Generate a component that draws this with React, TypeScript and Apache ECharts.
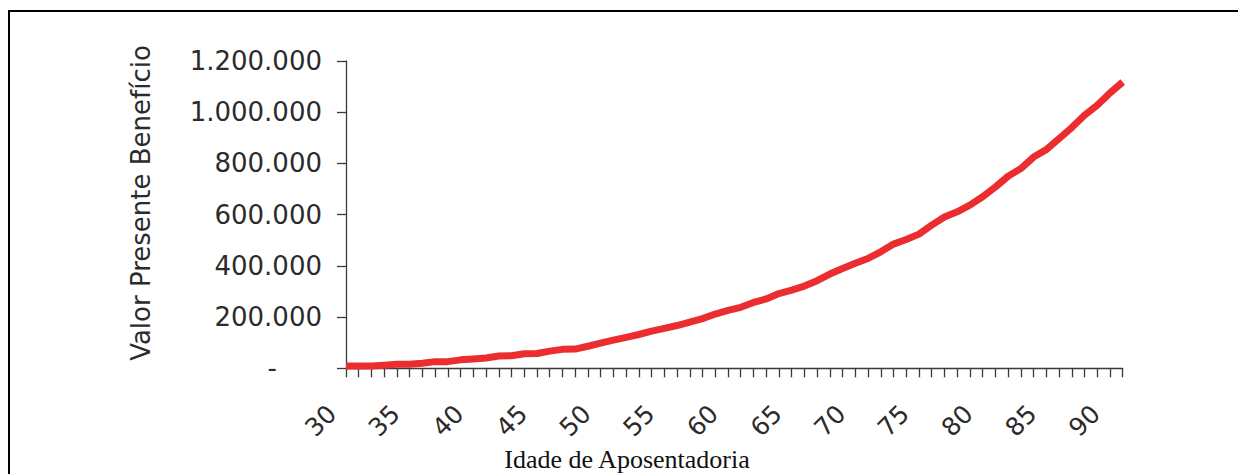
import React, { useEffect, useRef } from "react";
import * as echarts from "echarts";

const ages: number[] = [
  30, 31, 32, 33, 34, 35, 36, 37, 38, 39,
  40, 41, 42, 43, 44, 45, 46, 47, 48, 49,
  50, 51, 52, 53, 54, 55, 56, 57, 58, 59,
  60, 61, 62, 63, 64, 65, 66, 67, 68, 69,
  70, 71, 72, 73, 74, 75, 76, 77, 78, 79,
  80, 81, 82, 83, 84, 85, 86, 87, 88, 89,
  90, 91,
];

const presentValue: number[] = [
  9000, 9000, 9000, 12000, 16000, 16000, 20000, 26000, 26000, 33000,
  36000, 40000, 48000, 49000, 57000, 58000, 67000, 74000, 75000, 86000,
  98000, 110000, 121000, 132000, 145000, 156000, 167000, 180000, 194000, 212000,
  226000, 238000, 257000, 271000, 292000, 305000, 321000, 342000, 368000, 390000,
  410000, 429000, 455000, 485000, 503000, 524000, 559000, 591000, 611000, 637000,
  670000, 708000, 750000, 780000, 825000, 854000, 897000, 940000, 988000, 1027000,
  1075000, 1118000,
];

const yTitle = "Valor Presente Benefício";
const xTitle = "Idade de Aposentadoria";

const fmt = (v: number) =>
  v === 0 ? "{z|-}" : String(v).replace(/\B(?=(\d{3})+(?!\d))/g, ".");

export default function App() {
  const ref = useRef<HTMLDivElement>(null);
  useEffect(() => {
    if (!ref.current) return;
    const chart = echarts.init(ref.current, undefined, { renderer: "svg" });
    const axisColor = "#3a3a3a";
    const textColor = "#2b2b2b";
    chart.setOption({
      animation: false,
      backgroundColor: "#ffffff",
      grid: { left: 346, right: 115.3, top: 61, bottom: 105.7, containLabel: false },
      xAxis: {
        type: "category",
        data: ages.map(String),
        boundaryGap: false,
        axisLine: { show: true, lineStyle: { color: axisColor, width: 1.3 } },
        axisTick: { show: true, interval: 0, length: 9, lineStyle: { color: axisColor, width: 1.3 } },
        axisLabel: {
          interval: 4,
          rotate: 45,
          margin: 27,
          padding: [0, 20, 0, 0],
          fontSize: 25,
          fontFamily: "DejaVu Sans",
          color: textColor,
        },
        splitLine: { show: false },
      },
      yAxis: {
        type: "value",
        min: 0,
        max: 1200000,
        interval: 200000,
        axisLine: { show: true, lineStyle: { color: axisColor, width: 1.3 } },
        axisTick: { show: true, length: 9, lineStyle: { color: axisColor, width: 1.3 } },
        axisLabel: {
          margin: 24,
          fontSize: 26,
          fontFamily: "DejaVu Sans",
          color: textColor,
          formatter: fmt,
          rich: {
            z: { fontSize: 26, fontFamily: "DejaVu Sans", color: textColor, padding: [0, 45, 0, 0] },
          },
        },
        splitLine: { show: false },
      },
      series: [
        {
          type: "line",
          data: presentValue,
          symbol: "none",
          lineStyle: { color: "#EC2D2F", width: 7, cap: "butt", join: "round" },
          z: 3,
        },
      ],
      graphic: [
        {
          type: "rect",
          silent: true,
          shape: { x: 9, y: 11, width: 1400, height: 800 },
          style: { fill: "none", stroke: "#000", lineWidth: 2 },
        },
        {
          type: "text",
          x: 141,
          y: 203,
          rotation: Math.PI / 2,
          style: {
            text: yTitle,
            fontSize: 26,
            fontFamily: "DejaVu Sans",
            fill: textColor,
            align: "center",
            verticalAlign: "middle",
          },
        },
        {
          type: "text",
          x: 627,
          y: 459,
          style: {
            text: xTitle,
            fontSize: 26,
            fontFamily: "Liberation Serif",
            fill: "#111",
            align: "center",
            verticalAlign: "middle",
          },
        },
      ],
    });
    return () => chart.dispose();
  }, []);
  return (
    <div
      ref={ref}
      style={{ position: "absolute", left: 0, top: 0, width: 1238, height: 474 }}
    />
  );
}
